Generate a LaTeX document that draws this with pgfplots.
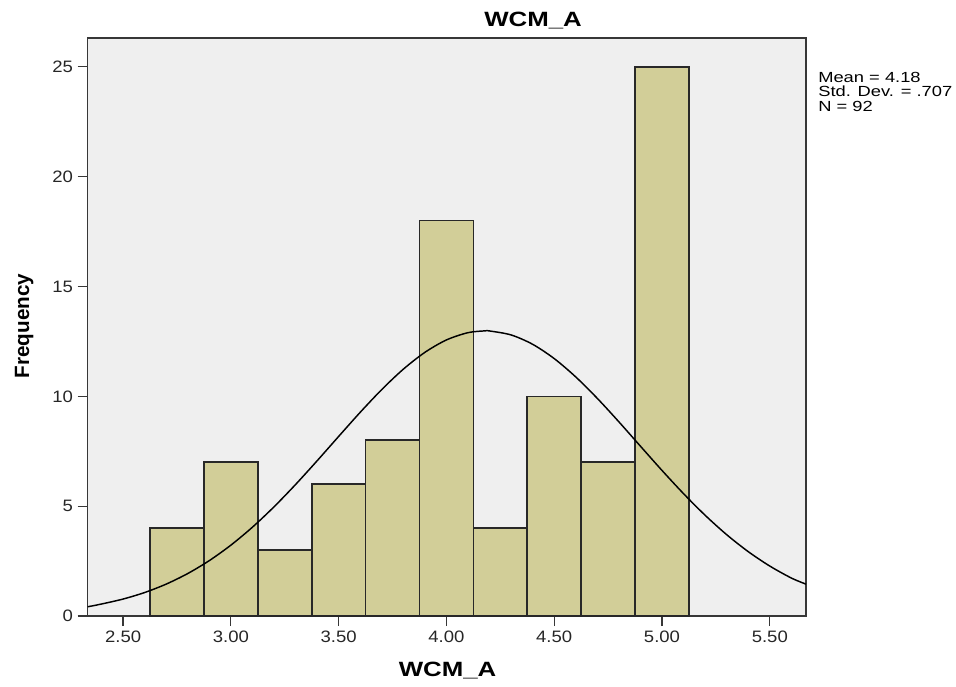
\documentclass[border=0pt]{standalone}
\usepackage{pgfplots}
\pgfplotsset{compat=1.18}
\usepackage{fontspec}
\setmainfont{Liberation Sans}
\usepackage{graphicx}
\definecolor{bgc}{RGB}{239,239,239}
\definecolor{barc}{RGB}{210,206,152}
\definecolor{edgec}{RGB}{40,40,40}
\definecolor{axc}{RGB}{55,55,55}
\newcommand{\hs}[1]{\scalebox{1.12}[1]{#1}}
\newcommand{\hw}[1]{\scalebox{1.25}[1]{#1}}
\begin{document}
\begin{tikzpicture}
\useasboundingbox (-65.8pt,-52.5pt) rectangle (651.2pt,462pt);
\begin{axis}[
  at={(0pt,0pt)}, anchor=south west,
  scale only axis, width=538.7pt, height=433.5pt,
  xmin=2.336, xmax=5.668, ymin=0, ymax=26.31,
  axis background/.style={fill=bgc},
  axis line style={axc, line width=0.9pt},
  xtick={2.5,3,3.5,4,4.5,5,5.5},
  xticklabels={\hs{2.50},\hs{3.00},\hs{3.50},\hs{4.00},\hs{4.50},\hs{5.00},\hs{5.50}},
  ytick={0,5,10,15,20,25},
  yticklabels={\hs{0},\hs{5},\hs{10},\hs{15},\hs{20},\hs{25}},
  tick align=outside, xtick pos=bottom, ytick pos=left,
  major tick length=7.5pt,
  tick style={axc, line width=0.9pt},
  tick label style={font=\fontsize{12.4}{14}\selectfont, text=black!85},
]
\addplot[ybar interval, fill=barc, draw=edgec, line width=1.2pt]
  coordinates {(2.625,4) (2.875,7) (3.125,3) (3.375,6) (3.625,8) (3.875,18) (4.125,4) (4.375,10) (4.625,7) (4.875,25) (5.125,25)};
\addplot[black, line width=1.1pt, smooth, no marks] coordinates {
(2.336,0.42) (2.4,0.546) (2.5,0.772) (2.6,1.069) (2.7,1.452) (2.8,1.933) (2.9,2.522)
(3.0,3.225) (3.1,4.043) (3.2,4.968) (3.3,5.984) (3.4,7.064) (3.5,8.174) (3.6,9.272)
(3.7,10.309) (3.8,11.235) (3.9,12.001) (4.0,12.566) (4.1,12.897) (4.18,12.98) (4.2,12.975)
(4.3,12.794) (4.4,12.367) (4.5,11.717) (4.6,10.881) (4.7,9.905) (4.8,8.838) (4.9,7.729)
(5.0,6.626) (5.1,5.568) (5.2,4.586) (5.3,3.702) (5.4,2.930) (5.5,2.273) (5.6,1.728) (5.668,1.45)};
\end{axis}
\node[anchor=base, font=\fontsize{15.5}{18}\selectfont\bfseries] at (334pt,442pt) {\hw{WCM\_A}};
\node[anchor=base, font=\fontsize{15.5}{18}\selectfont\bfseries] at (269.9pt,-45.5pt) {\hw{WCM\_A}};
\node[anchor=base, rotate=90, font=\fontsize{15.5}{18}\selectfont\bfseries] at (-44pt,217.5pt) {Frequency};
\node[anchor=base west, font=\fontsize{11}{13}\selectfont, inner sep=0pt] at (547.7pt,400.3pt) {\hw{Mean = 4.18}};
\node[anchor=base west, font=\fontsize{11}{13}\selectfont, inner sep=0pt] at (547.7pt,389.5pt) {\hw{Std. Dev. = .707}};
\node[anchor=base west, font=\fontsize{11}{13}\selectfont, inner sep=0pt] at (547.7pt,378.2pt) {\hw{N = 92}};
\end{tikzpicture}
\end{document}
